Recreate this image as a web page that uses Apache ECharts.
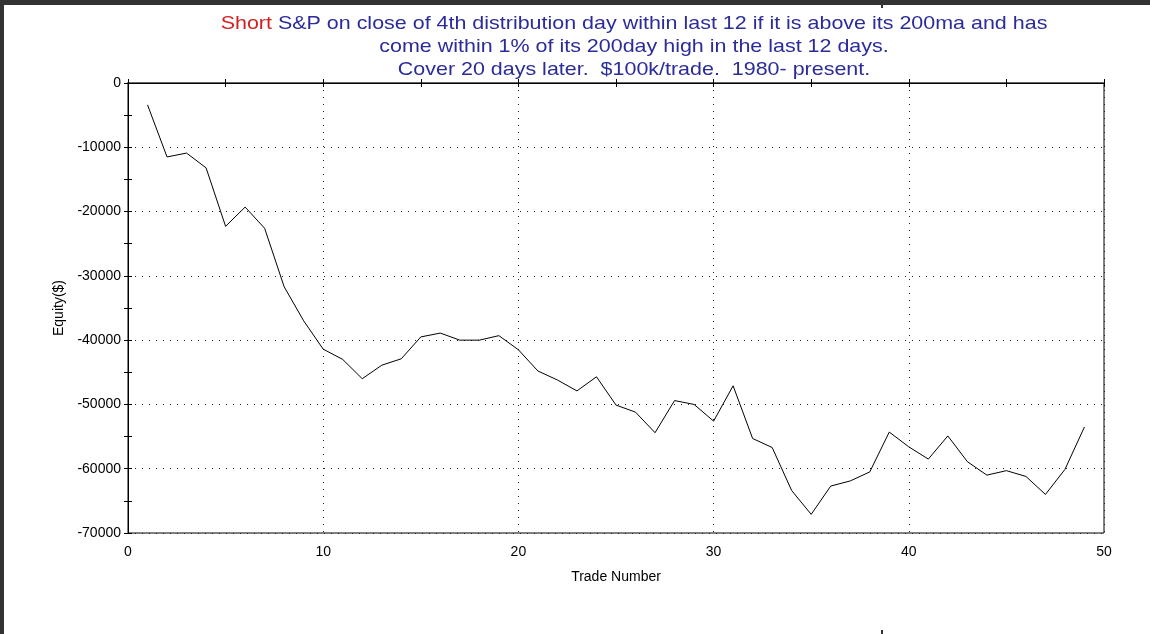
<!DOCTYPE html>
<html>
<head>
<meta charset="utf-8">
<script src="https://cdn.jsdelivr.net/npm/echarts@6/dist/echarts.min.js"></script>
<style>
  html, body { margin: 0; padding: 0; background: #fff; }
  #chart { width: 1150px; height: 634px; }
</style>
</head>
<body>
<div id="chart"></div>
<script>
// trade numbers and running equity
var trades = [];
for (var i = 1; i <= 49; i++) trades.push(i);

var equity = [
  -3400, -11500, -10900, -13200, -22300, -19300, -22600, -31700, -37000, -41400,
  -43000, -46000, -43900, -42900, -39500, -38900, -40000, -40000, -39300, -41500,
  -44800, -46200, -47900, -45700, -50100, -51200, -54400, -49400, -50000, -52600,
  -47100, -55300, -56700, -63400, -67100, -62700, -61900, -60500, -54300, -56600,
  -58500, -54900, -58900, -61000, -60300, -61200, -64000, -60100, -53500
];

var xTicks = { min: 0, max: 50, step: 10 };
var yTicks = { min: -70000, max: 0, step: 10000 };

var titleLines = [
  '{r|Short} S&P on close of 4th distribution day within last 12 if it is above its 200ma and has',
  'come within 1% of its 200day high in the last 12 days.',
  'Cover 20 days later.  $100k/trade.  1980- present.'
];

var points = trades.map(function (t, k) { return [t, equity[k]]; });

var chart = echarts.init(document.getElementById('chart'));

var font = 'Liberation Sans, Arial, sans-serif';
var dotted = { type: [1, 6], color: '#222', width: 1 };

var option = {
  animation: false,
  backgroundColor: '#fff',
  textStyle: { fontFamily: font },
  grid: {
    left: 128, right: 46, top: 83, bottom: 101,
    show: true, borderColor: '#000', borderWidth: 1, backgroundColor: 'transparent'
  },
  xAxis: [{
    type: 'value',
    min: xTicks.min, max: xTicks.max, interval: xTicks.step,
    position: 'bottom',
    name: 'Trade Number',
    nameLocation: 'middle',
    nameGap: 37,
    nameTextStyle: { fontSize: 14, color: '#000', fontFamily: font },
    axisLine: { show: true, lineStyle: { color: '#666', width: 2 } },
    axisTick: { show: false },
    axisLabel: { fontSize: 14, color: '#000', margin: 12, fontFamily: font },
    splitLine: { show: true, lineStyle: dotted }
  }, {
    type: 'value',
    min: xTicks.min, max: xTicks.max, interval: xTicks.step / 2,
    position: 'top',
    axisLine: { show: true, lineStyle: { color: '#000', width: 1 } },
    axisTick: { show: true, inside: false, length: 4, lineStyle: { color: '#000' } },
    axisLabel: { show: false },
    splitLine: { show: false }
  }, {
    type: 'value',
    min: xTicks.min, max: xTicks.max, interval: xTicks.step / 2,
    position: 'top',
    axisLine: { show: false },
    axisTick: { show: true, inside: true, length: 4, lineStyle: { color: '#000' } },
    axisLabel: { show: false },
    splitLine: { show: false }
  }],
  yAxis: [{
    type: 'value',
    min: yTicks.min, max: yTicks.max, interval: yTicks.step,
    position: 'left',
    name: 'Equity($)',
    nameLocation: 'middle',
    nameGap: 59,
    nameTextStyle: { fontSize: 14, color: '#000', fontFamily: font },
    axisLine: { show: true, lineStyle: { color: '#000', width: 1 } },
    axisTick: { show: true, inside: false, length: 4, lineStyle: { color: '#000' } },
    axisLabel: {
      fontSize: 14, color: '#000', margin: 7, fontFamily: font,
      formatter: function (v) { return String(v); }
    },
    splitLine: { show: true, lineStyle: dotted }
  }, {
    type: 'value',
    min: yTicks.min, max: yTicks.max, interval: yTicks.step / 2,
    position: 'left',
    axisLine: { show: false },
    axisTick: { show: true, inside: true, length: 4, lineStyle: { color: '#000' } },
    axisLabel: { show: false },
    splitLine: { show: false }
  }, {
    type: 'value',
    min: yTicks.min, max: yTicks.max, interval: yTicks.step / 2,
    position: 'left',
    axisLine: { show: false },
    axisTick: { show: true, inside: false, length: 4, lineStyle: { color: '#000' } },
    axisLabel: { show: false },
    splitLine: { show: false }
  }],
  graphic: [
    { type: 'rect', shape: { x: 0, y: 0, width: 1150, height: 5 }, style: { fill: '#333' } },
    { type: 'rect', shape: { x: 0, y: 0, width: 4, height: 634 }, style: { fill: '#333' } },
    { type: 'rect', shape: { x: 881, y: 5, width: 2, height: 3 }, style: { fill: '#333' } },
    { type: 'rect', shape: { x: 881, y: 630, width: 2, height: 4 }, style: { fill: '#333' } },
    {
      // title: the original font is wide for its height, so stretch it a little
      type: 'text',
      x: 634,
      y: 12.5,
      scaleX: 1.18,
      style: {
        text: titleLines.join('\n'),
        align: 'center',
        verticalAlign: 'top',
        font: '18.2px ' + font,
        fill: '#2b2b9a',
        lineHeight: 22.8,
        rich: {
          r: { fill: '#d42020', fontSize: 18.2, fontFamily: font, lineHeight: 22.8 }
        }
      }
    }
  ],
  series: [{
    type: 'line',
    data: points,
    xAxisIndex: 0,
    yAxisIndex: 0,
    showSymbol: false,
    symbol: 'none',
    lineStyle: { color: '#000', width: 1 },
    z: 5
  }]
};

chart.setOption(option);
</script>
</body>
</html>
